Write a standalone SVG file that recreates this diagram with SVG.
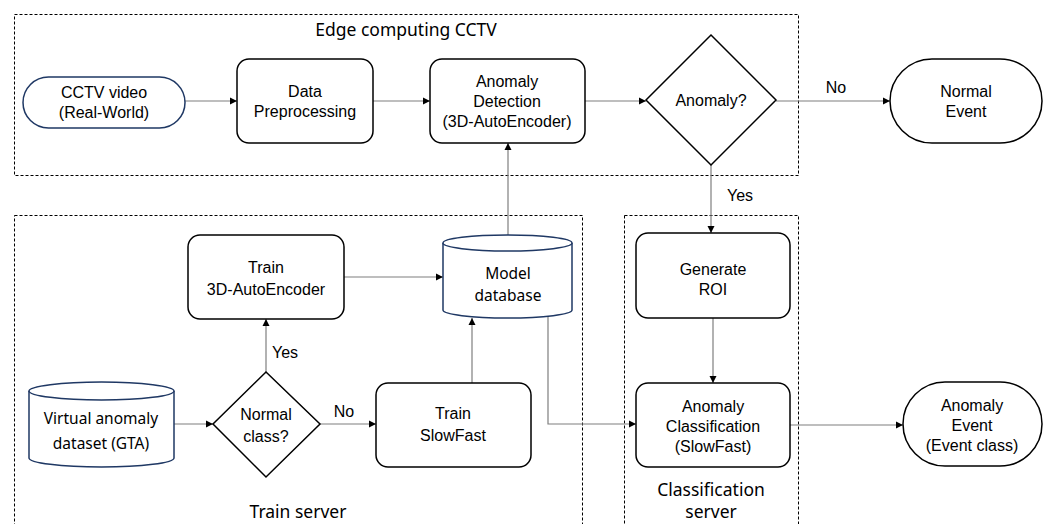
<svg xmlns="http://www.w3.org/2000/svg" width="1051" height="524" viewBox="0 0 1051 524">
<defs>
<marker id="ah" markerWidth="8" markerHeight="8" refX="7" refY="4" orient="auto" markerUnits="userSpaceOnUse">
<path d="M0,0.5 L7,4 L0,7.5 Z" fill="#000"/>
</marker>
<style>
.grp{fill:none;stroke:#000;stroke-width:1;stroke-dasharray:3,2}
.box{fill:#fff;stroke:#000;stroke-width:1.5}
.term{fill:#fff;stroke:#1f3864;stroke-width:1.5}
.cyl{fill:#fff;stroke:#1f3864;stroke-width:1.5}
.t{font-family:"Liberation Sans",Arial,sans-serif;font-size:16px;fill:#000;text-anchor:middle}
.g{font-family:"Noto Sans","DejaVu Sans",sans-serif;font-size:17.5px;fill:#000;text-anchor:middle}
.c{font-family:"Noto Sans","DejaVu Sans",sans-serif;font-size:15.5px;fill:#000;text-anchor:middle}
.ln{fill:none;stroke:#7f7f7f;stroke-width:1.2}
.lna{fill:none;stroke:#7f7f7f;stroke-width:1.2;marker-end:url(#ah)}
</style>
</defs>
<rect width="1051" height="524" fill="#fff"/>
<g id="edge-group">
<rect class="grp" x="14.5" y="14.5" width="784" height="161"/>
<text class="g" x="406" y="36">Edge computing CCTV</text>
</g>
<g id="train-group">
<rect class="grp" x="14.5" y="215.5" width="568" height="320"/>
<text class="g" x="298" y="518">Train server</text>
</g>
<g id="class-group">
<rect class="grp" x="624.5" y="215.5" width="174" height="320"/>
<text class="g" x="711" y="496">Classification</text>
<text class="g" x="711" y="518">server</text>
</g>
<g id="connectors">
<path class="lna" d="M185,101 L237,101"/>
<path class="lna" d="M373,101 L430,101"/>
<path class="lna" d="M585,101 L646,101"/>
<path class="lna" d="M776,101 L890,101"/>
<text class="t" x="836" y="93">No</text>
<path class="lna" d="M711,165 L711,233"/>
<text class="t" x="740" y="201">Yes</text>
<path class="lna" d="M713,318 L713,383"/>
<path class="lna" d="M790,425 L903,425"/>
<path class="lna" d="M508,236 L508,143"/>
<path class="lna" d="M344,277 L443,277"/>
<path class="lna" d="M266,372 L266,319"/>
<text class="t" x="285" y="358">Yes</text>
<path class="lna" d="M174,424 L213,424"/>
<path class="lna" d="M320,424 L376,424"/>
<text class="t" x="344" y="417">No</text>
<path class="lna" d="M472,383 L472,318"/>
<path class="lna" d="M548,317 L548,424 L636,424"/>
</g>
<g id="cctv-video">
<rect class="term" x="23" y="77" width="162" height="51" rx="25.5"/>
<text class="t" x="104" y="98">CCTV video</text>
<text class="t" x="104" y="118">(Real-World)</text>
</g>
<g id="data-preprocessing">
<rect class="box" x="237" y="59" width="136" height="84" rx="12"/>
<text class="t" x="305" y="97">Data</text>
<text class="t" x="305" y="117">Preprocessing</text>
</g>
<g id="anomaly-detection">
<rect class="box" x="430" y="59" width="155" height="84" rx="12"/>
<text class="t" x="507" y="87">Anomaly</text>
<text class="t" x="507" y="107">Detection</text>
<text class="t" x="507" y="127">(3D-AutoEncoder)</text>
</g>
<g id="anomaly-decision">
<path class="box" d="M711,35 L776,100 L711,165 L646,100 Z"/>
<text class="t" x="711" y="106">Anomaly?</text>
</g>
<g id="normal-event">
<rect class="box" x="890" y="59" width="152" height="84" rx="42"/>
<text class="t" x="966" y="97">Normal</text>
<text class="t" x="966" y="117">Event</text>
</g>
<g id="generate-roi">
<rect class="box" x="636" y="233" width="154" height="85" rx="12"/>
<text class="t" x="713" y="275">Generate</text>
<text class="t" x="713" y="295">ROI</text>
</g>
<g id="anomaly-classification">
<rect class="box" x="636" y="383" width="154" height="84" rx="12"/>
<text class="t" x="713" y="412">Anomaly</text>
<text class="t" x="713" y="432">Classification</text>
<text class="t" x="713" y="452">(SlowFast)</text>
</g>
<g id="anomaly-event">
<rect class="box" x="903" y="382" width="139" height="84" rx="42"/>
<text class="t" x="972" y="411">Anomaly</text>
<text class="t" x="972" y="431">Event</text>
<text class="t" x="972" y="451">(Event class)</text>
</g>
<g id="model-database">
<path class="cyl" d="M443,243 L443,310 A64.5,8 0 0 0 572,310 L572,243 A64.5,8 0 0 0 443,243 Z"/>
<path class="cyl" d="M443,243 A64.5,8 0 0 0 572,243"/>
<text class="c" x="508" y="279">Model</text>
<text class="c" x="508" y="301">database</text>
</g>
<g id="train-autoencoder">
<rect class="box" x="188" y="235" width="156" height="84" rx="12"/>
<text class="t" x="266" y="273">Train</text>
<text class="t" x="266" y="295">3D-AutoEncoder</text>
</g>
<g id="virtual-dataset">
<path class="cyl" d="M29,391 L29,458 A72.5,9 0 0 0 174,458 L174,391 A72.5,9 0 0 0 29,391 Z"/>
<path class="cyl" d="M29,391 A72.5,9 0 0 0 174,391"/>
<text class="c" x="101" y="424">Virtual anomaly</text>
<text class="c" x="101" y="449">dataset (GTA)</text>
</g>
<g id="normal-class">
<path class="box" d="M266,372 L320,424 L266,477 L213,424 Z"/>
<text class="t" x="266" y="420">Normal</text>
<text class="t" x="266" y="442">class?</text>
</g>
<g id="train-slowfast">
<rect class="box" x="376" y="383" width="155" height="84" rx="12"/>
<text class="t" x="453" y="419">Train</text>
<text class="t" x="453" y="441">SlowFast</text>
</g>
</svg>
